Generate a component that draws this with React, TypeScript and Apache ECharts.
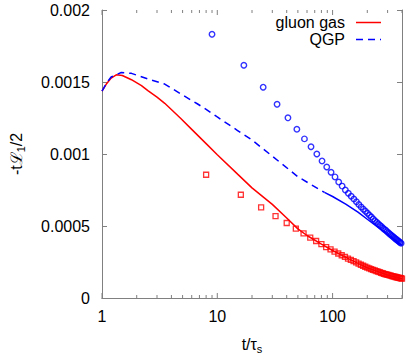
import React, { useEffect, useRef } from "react";
import * as echarts from "echarts";

// values in units of 1e-3
const gluonT = [1, 1.1, 1.2, 1.33, 1.5, 1.8, 2.2, 2.5, 3, 3.5, 4.8, 6, 8, 10, 15, 20, 30, 40, 50, 60, 80, 100, 150, 200, 300, 400];
const gluonV = [1.436, 1.49, 1.527, 1.55, 1.545, 1.516, 1.475, 1.44, 1.395, 1.352, 1.248, 1.171, 1.072, 0.995, 0.86, 0.765, 0.65, 0.555, 0.48, 0.434, 0.374, 0.33, 0.258, 0.21, 0.16, 0.134];

const qgpT = [1, 1.1, 1.2, 1.47, 1.8, 2.5, 3.5, 4.8, 6.7, 8, 10, 15, 20, 30, 44, 50, 66, 85, 100, 130, 166, 200, 250, 300, 350, 400];
const qgpV = [1.436, 1.495, 1.535, 1.566, 1.56, 1.521, 1.486, 1.418, 1.349, 1.31, 1.257, 1.163, 1.097, 0.985, 0.878, 0.842, 0.785, 0.733, 0.705, 0.652, 0.597, 0.547, 0.489, 0.442, 0.402, 0.366];
const qgpDashEnd = 85;

const squareT = [8, 16, 24, 32, 40, 48, 56, 64, 72, 80, 88, 96, 104, 112, 120, 128, 136, 144, 152, 160, 168, 176, 184, 192, 200, 208, 216, 224, 232, 240, 248, 256, 264, 272, 280, 288, 296, 304, 312, 320, 328, 336, 344, 352, 360, 368, 376, 384, 392, 400];
const squareV = [0.856, 0.717, 0.63, 0.569, 0.521, 0.482, 0.449, 0.419, 0.396, 0.374, 0.353, 0.337, 0.322, 0.309, 0.297, 0.285, 0.274, 0.265, 0.256, 0.247, 0.239, 0.231, 0.224, 0.217, 0.211, 0.206, 0.201, 0.196, 0.192, 0.187, 0.183, 0.179, 0.175, 0.172, 0.168, 0.165, 0.162, 0.16, 0.157, 0.155, 0.152, 0.15, 0.148, 0.146, 0.144, 0.142, 0.14, 0.139, 0.137, 0.135];

const circleT = [9, 17, 25, 33, 41, 49, 57, 65, 73, 81, 89, 97, 105, 113, 121, 129, 137, 145, 153, 161, 169, 177, 185, 193, 201, 209, 217, 225, 233, 241, 249, 257, 265, 273, 281, 289, 297, 305, 313, 321, 329, 337, 345, 353, 361, 369, 377, 385, 393];
const circleV = [1.831, 1.616, 1.464, 1.345, 1.251, 1.172, 1.105, 1.05, 1.0, 0.952, 0.91, 0.873, 0.841, 0.805, 0.777, 0.75, 0.728, 0.707, 0.687, 0.668, 0.649, 0.632, 0.617, 0.602, 0.588, 0.574, 0.562, 0.549, 0.537, 0.526, 0.515, 0.505, 0.496, 0.486, 0.478, 0.47, 0.461, 0.453, 0.445, 0.438, 0.431, 0.424, 0.417, 0.41, 0.404, 0.398, 0.392, 0.386, 0.38];

const xMajorTicks = [1, 10, 100];
const xMinorTicks = [2, 3, 4, 5, 6, 7, 8, 9, 20, 30, 40, 50, 60, 70, 80, 90, 200, 300, 400];
const legendLabels = ["gluon gas", "QGP"];

const zip = (a: number[], b: number[]) => a.map((t, i) => [t, b[i]]);

export default function App() {
  const ref = useRef<HTMLDivElement>(null);
  useEffect(() => {
    if (!ref.current) return;
    const chart = echarts.init(ref.current, null, { renderer: "svg" });
    const axisColor = "#808080";
    const font = "Liberation Sans, Arial, Helvetica, sans-serif";
    const qgpDashed = zip(qgpT, qgpV).filter((p) => p[0] <= qgpDashEnd);
    const qgpSolid = zip(qgpT, qgpV).filter((p) => p[0] >= qgpDashEnd);
    const tickData = [
      ...xMajorTicks.map((t) => [t, 1]),
      ...xMinorTicks.map((t) => [t, 0]),
    ];
    chart.setOption({
      animation: false,
      grid: { left: 99, right: 5, top: 10, bottom: 57, containLabel: false },
      graphic: [
        { type: "text", right: 62, top: 14, style: { text: legendLabels[0], fontSize: 16, fontFamily: font, fill: "#000" } },
        { type: "text", right: 62, top: 31, style: { text: legendLabels[1], fontSize: 16, fontFamily: font, fill: "#000" } },
        { type: "line", shape: { x1: 356, y1: 22.5, x2: 381, y2: 22.5 }, style: { stroke: "#ff0000", lineWidth: 1.5 } },
        { type: "line", shape: { x1: 356, y1: 39.5, x2: 381, y2: 39.5 }, style: { stroke: "#0000ff", lineWidth: 1.5, lineDash: [7, 5] } },
      ],
      xAxis: [
        {
          type: "log",
          logBase: 10,
          min: 1,
          max: 400,
          position: "bottom",
          axisLine: { show: true, lineStyle: { color: axisColor, width: 1 } },
          axisTick: { show: false },
          splitLine: { show: false },
          axisLabel: {
            fontSize: 16,
            fontFamily: font,
            color: "#000",
            margin: 10,
            formatter: (v: number) => (xMajorTicks.some((m) => Math.abs(m - v) < 1e-6) ? String(v) : ""),
          },
          name: "{a|t/τ}{s|s}",
          nameLocation: "middle",
          nameGap: 36,
          nameTextStyle: {
            rich: {
              a: { fontSize: 16, fontFamily: font, color: "#000", lineHeight: 20 },
              s: { fontSize: 11, fontFamily: font, color: "#000", lineHeight: 11, verticalAlign: "bottom" },
            },
          },
        },
        {
          type: "log",
          logBase: 10,
          min: 1,
          max: 400,
          position: "top",
          axisLine: { show: true, lineStyle: { color: axisColor, width: 1 } },
          axisTick: { show: false },
          axisLabel: { show: false },
          splitLine: { show: false },
        },
      ],
      yAxis: [
        {
          type: "value",
          min: 0,
          max: 2,
          interval: 0.5,
          position: "left",
          axisLine: { show: true, lineStyle: { color: axisColor, width: 1 } },
          axisTick: { show: true, inside: true, length: 5, lineStyle: { color: axisColor } },
          splitLine: { show: false },
          axisLabel: {
            fontSize: 16,
            fontFamily: font,
            color: "#000",
            margin: 12,
            formatter: (v: number) => (v === 0 ? "0" : String(+(v / 1000).toFixed(4))),
          },
          name: "{a|-tℒ}{s|1}{a|/2}",
          nameLocation: "middle",
          nameRotate: 90,
          nameGap: 76,
          nameTextStyle: {
            rich: {
              a: { fontSize: 16, fontFamily: font, color: "#000", lineHeight: 20 },
              s: { fontSize: 11, fontFamily: font, color: "#000", lineHeight: 11, verticalAlign: "bottom" },
            },
          },
        },
        {
          type: "value",
          min: 0,
          max: 2,
          interval: 0.5,
          position: "right",
          axisLine: { show: true, lineStyle: { color: axisColor, width: 1 } },
          axisTick: { show: true, inside: true, length: 5, lineStyle: { color: axisColor } },
          splitLine: { show: false },
          axisLabel: { show: false },
        },
      ],
      series: [
        {
          name: "xticks",
          type: "custom",
          xAxisIndex: 0,
          yAxisIndex: 0,
          silent: true,
          clip: false,
          data: tickData,
          renderItem: (params: any, api: any) => {
            const t = api.value(0);
            const major = api.value(1) === 1;
            const p = api.coord([t, 0]);
            const cs = params.coordSys;
            const len = major ? 5 : 3;
            const bottom = cs.y + cs.height;
            return {
              type: "group",
              children: [
                { type: "line", shape: { x1: p[0], y1: bottom, x2: p[0], y2: bottom - len }, style: { stroke: axisColor, lineWidth: 1 } },
                { type: "line", shape: { x1: p[0], y1: cs.y, x2: p[0], y2: cs.y + len }, style: { stroke: axisColor, lineWidth: 1 } },
              ],
            };
          },
        },
        {
          name: "gluon gas",
          type: "line",
          data: zip(gluonT, gluonV),
          symbol: "none",
          smooth: false,
          sampling: undefined,
          lineStyle: { color: "#ff0000", width: 1.5 },
          itemStyle: { color: "#ff0000" },
          z: 3,
        },
        {
          name: "QGP",
          type: "line",
          data: qgpDashed,
          symbol: "none",
          smooth: false,
          lineStyle: { color: "#0000ff", width: 1.5, type: [7, 5] },
          itemStyle: { color: "#0000ff" },
          z: 3,
        },
        {
          name: "QGP tail",
          type: "line",
          data: qgpSolid,
          symbol: "none",
          smooth: false,
          lineStyle: { color: "#0000ff", width: 1.5 },
          itemStyle: { color: "#0000ff" },
          z: 3,
        },
        {
          name: "gluon points",
          type: "scatter",
          data: zip(squareT, squareV),
          symbol: "rect",
          symbolSize: 5,
          itemStyle: { color: "rgba(0,0,0,0)", borderColor: "#ff0000", borderWidth: 1.3 },
          z: 4,
        },
        {
          name: "QGP points",
          type: "scatter",
          data: zip(circleT, circleV),
          symbol: "circle",
          symbolSize: 5.5,
          itemStyle: { color: "rgba(0,0,0,0)", borderColor: "#0000ff", borderWidth: 1.4 },
          z: 4,
        },
      ],
    });
    return () => chart.dispose();
  }, []);
  return <div ref={ref} style={{ width: 407, height: 359, position: "absolute", left: 0, top: 0 }} />;
}
